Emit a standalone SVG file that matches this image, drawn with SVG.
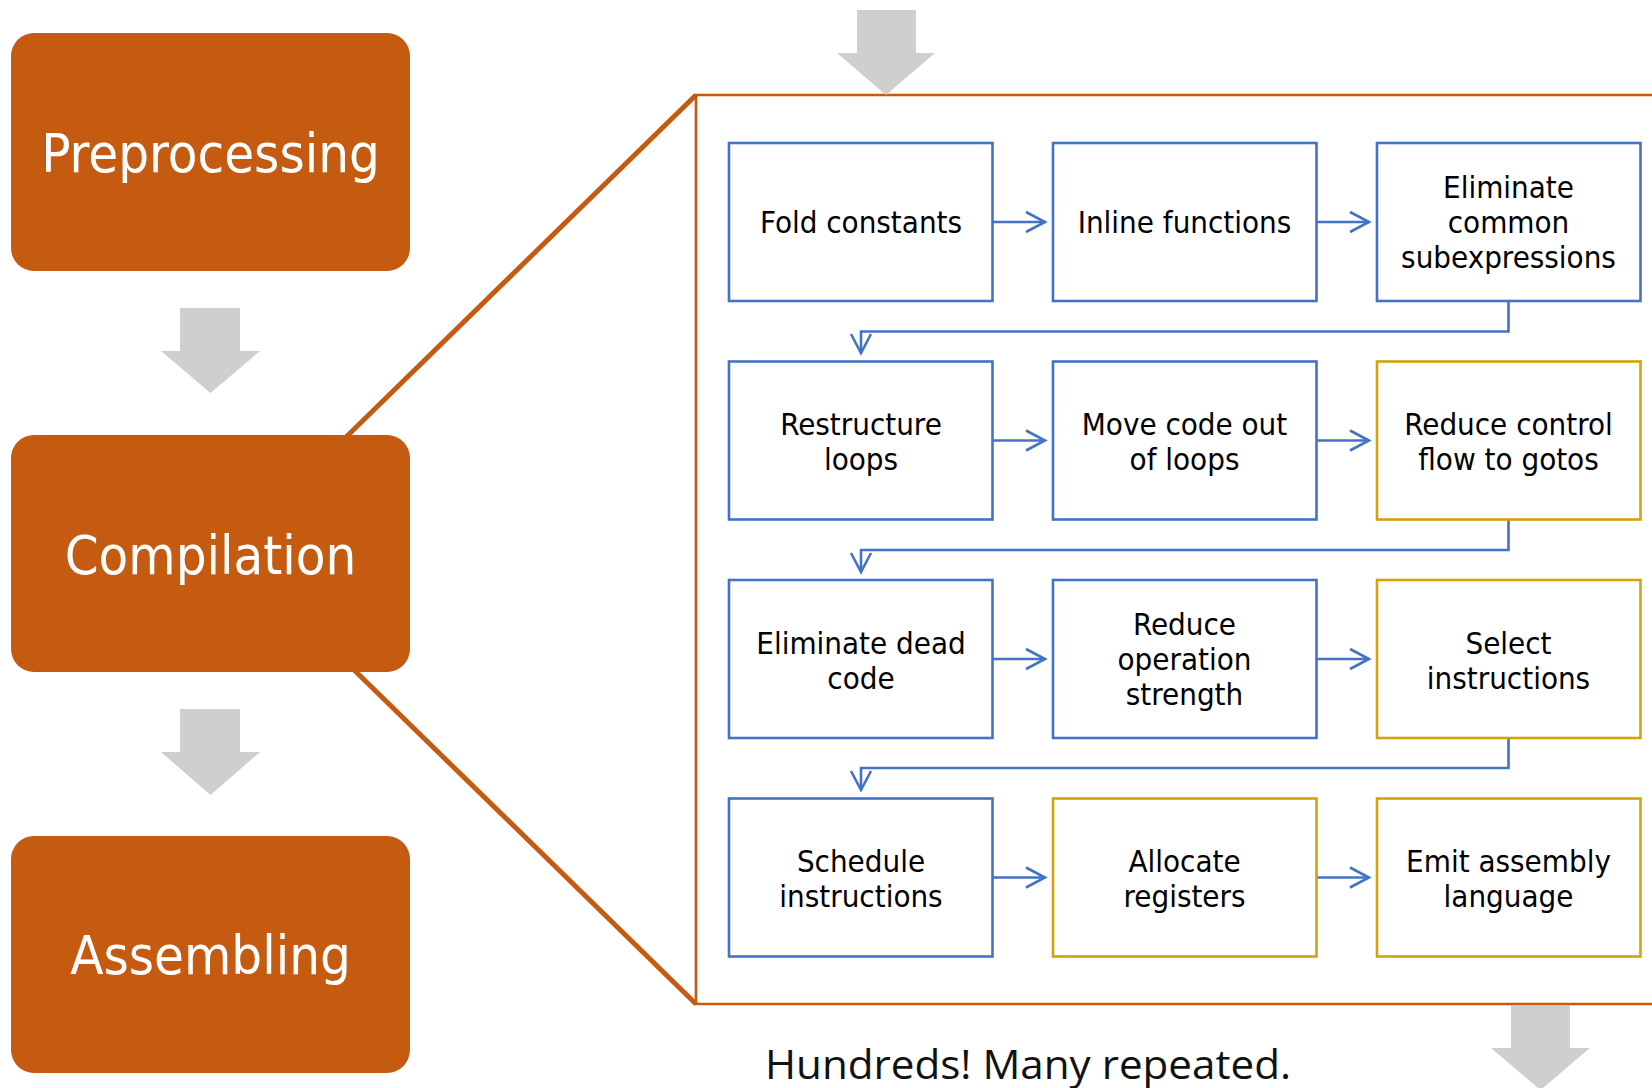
<svg xmlns="http://www.w3.org/2000/svg" width="1652" height="1088" viewBox="0 0 1652 1088">
<defs>
<style>
.stage rect{fill:#C55A11}
.stage text{fill:#FFFFFF;font-family:'DejaVu Sans Condensed','DejaVu Sans',sans-serif;font-stretch:condensed;font-size:54px;text-anchor:middle}
.step rect{fill:#FFFFFF;stroke-width:2.6}
.blue rect{stroke:#4472C4}
.gold rect{stroke:#D4A20A}
.step text{fill:#000000;font-family:'DejaVu Sans Condensed','DejaVu Sans',sans-serif;font-stretch:condensed;font-size:31px;text-anchor:middle}
.gray{fill:#CFCFCF}
.conn{fill:none;stroke:#4472C4;stroke-width:2.6}
.zoomline{fill:none;stroke:#C55A11;stroke-width:5}
.frame{fill:none;stroke:#C55A11;stroke-width:2.7}
.note{fill:#111111;font-family:'Open Sans','Noto Sans',sans-serif;font-size:41px;text-anchor:middle}
</style>
<marker id="arr" markerUnits="userSpaceOnUse" markerWidth="26" markerHeight="26" viewBox="-23 -13 26 26" refX="0" refY="0" orient="auto">
<path d="M-19,-10 L0,0 L-19,10" fill="none" stroke="#4472C4" stroke-width="2.6"/>
</marker>
</defs>
<rect width="1652" height="1088" fill="#FFFFFF"/>

<g id="zoom-frame">
<path class="zoomline" d="M340,443 L696,95"/>
<path class="zoomline" d="M348,664 L696,1004"/>
<path class="frame" d="M696,95 H1665 V1004 H696 Z"/>
</g>

<g id="gray-arrows">
<polygon class="gray" points="180,308 240,308 240,351 260,351 210.5,393 161,351 180,351"/>
<polygon class="gray" points="180,709 240,709 240,752 260,752 210.5,795 161,752 180,752"/>
<polygon class="gray" points="857,10 916,10 916,53 935,53 886,95 837,53 857,53"/>
<polygon class="gray" points="1511,1005 1570,1005 1570,1048 1590,1048 1540.5,1090 1491,1048 1511,1048"/>
</g>

<g id="preprocessing" class="stage">
<rect x="11" y="33" width="399" height="238" rx="23"/>
<text x="210.5" y="172">Preprocessing</text>
</g>
<g id="compilation" class="stage">
<rect x="11" y="435" width="399" height="237" rx="23"/>
<text x="210.5" y="574">Compilation</text>
</g>
<g id="assembling" class="stage">
<rect x="11" y="836" width="399" height="237" rx="23"/>
<text x="210.5" y="974">Assembling</text>
</g>

<g id="connectors">
<path class="conn" d="M993,222 H1045" marker-end="url(#arr)"/>
<path class="conn" d="M1317,222 H1369" marker-end="url(#arr)"/>
<path class="conn" d="M1508.5,301 V331.5 H861 V353" marker-end="url(#arr)"/>
<path class="conn" d="M993,440.5 H1045" marker-end="url(#arr)"/>
<path class="conn" d="M1317,440.5 H1369" marker-end="url(#arr)"/>
<path class="conn" d="M1508.5,519.5 V550 H861 V572" marker-end="url(#arr)"/>
<path class="conn" d="M993,659 H1045" marker-end="url(#arr)"/>
<path class="conn" d="M1317,659 H1369" marker-end="url(#arr)"/>
<path class="conn" d="M1508.5,738 V768 H861 V790" marker-end="url(#arr)"/>
<path class="conn" d="M993,877.5 H1045" marker-end="url(#arr)"/>
<path class="conn" d="M1317,877.5 H1369" marker-end="url(#arr)"/>
</g>

<g id="fold-constants" class="step blue">
<rect x="729" y="143" width="263.5" height="158"/>
<text x="861" y="233">Fold constants</text>
</g>
<g id="inline-functions" class="step blue">
<rect x="1053" y="143" width="263.5" height="158"/>
<text x="1184.5" y="233">Inline functions</text>
</g>
<g id="eliminate-cse" class="step blue">
<rect x="1377" y="143" width="263.5" height="158"/>
<text x="1508.5" y="198">Eliminate</text>
<text x="1508.5" y="233">common</text>
<text x="1508.5" y="267.5">subexpressions</text>
</g>

<g id="restructure-loops" class="step blue">
<rect x="729" y="361.5" width="263.5" height="158"/>
<text x="861" y="435">Restructure</text>
<text x="861" y="470">loops</text>
</g>
<g id="move-code" class="step blue">
<rect x="1053" y="361.5" width="263.5" height="158"/>
<text x="1184.5" y="435">Move code out</text>
<text x="1184.5" y="470">of loops</text>
</g>
<g id="reduce-control" class="step gold">
<rect x="1377" y="361.5" width="263.5" height="158"/>
<text x="1508.5" y="435">Reduce control</text>
<text x="1508.5" y="470">flow to gotos</text>
</g>

<g id="eliminate-dead" class="step blue">
<rect x="729" y="580" width="263.5" height="158"/>
<text x="861" y="653.5">Eliminate dead</text>
<text x="861" y="688.5">code</text>
</g>
<g id="reduce-strength" class="step blue">
<rect x="1053" y="580" width="263.5" height="158"/>
<text x="1184.5" y="635">Reduce</text>
<text x="1184.5" y="670">operation</text>
<text x="1184.5" y="704.5">strength</text>
</g>
<g id="select-instructions" class="step gold">
<rect x="1377" y="580" width="263.5" height="158"/>
<text x="1508.5" y="653.5">Select</text>
<text x="1508.5" y="688.5">instructions</text>
</g>

<g id="schedule-instructions" class="step blue">
<rect x="729" y="798.5" width="263.5" height="158"/>
<text x="861" y="872">Schedule</text>
<text x="861" y="907">instructions</text>
</g>
<g id="allocate-registers" class="step gold">
<rect x="1053" y="798.5" width="263.5" height="158"/>
<text x="1184.5" y="872">Allocate</text>
<text x="1184.5" y="907">registers</text>
</g>
<g id="emit-assembly" class="step gold">
<rect x="1377" y="798.5" width="263.5" height="158"/>
<text x="1508.5" y="872">Emit assembly</text>
<text x="1508.5" y="907">language</text>
</g>

<g id="note">
<text class="note" x="1028" y="1079" textLength="526" lengthAdjust="spacingAndGlyphs">Hundreds! Many repeated.</text>
</g>
</svg>
